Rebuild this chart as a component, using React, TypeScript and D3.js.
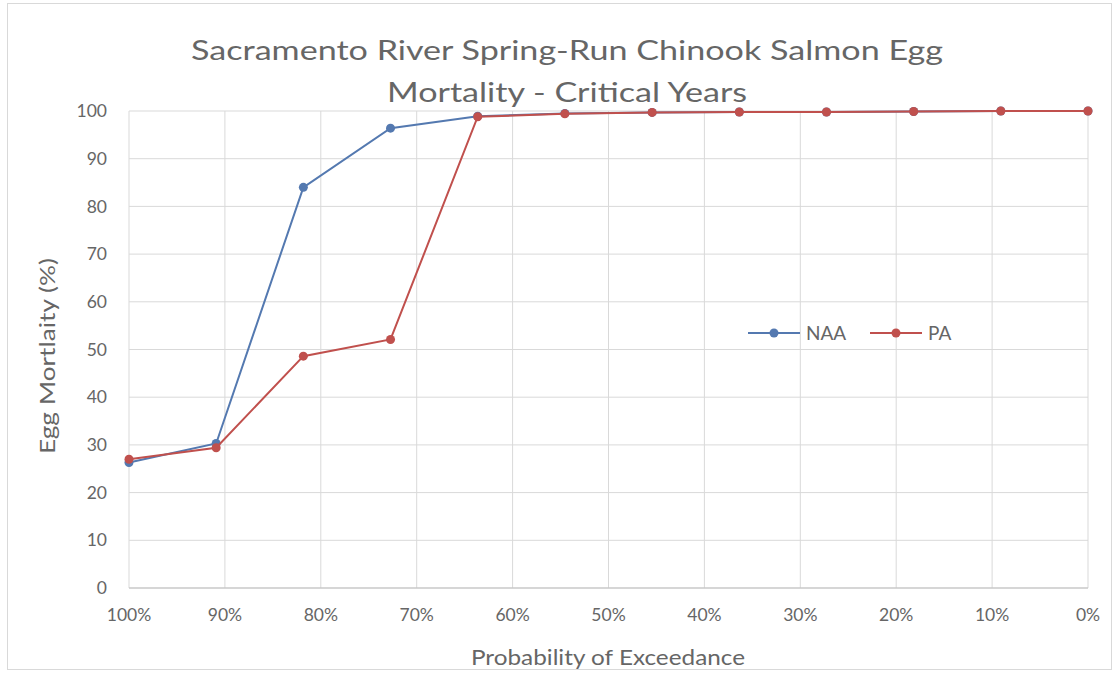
import * as React from 'react';
import * as d3 from 'd3';

// probability of exceedance (%) for each of the 12 ranked years
const exceedance: number[] = [100, 90.91, 81.82, 72.73, 63.64, 54.55, 45.45, 36.36, 27.27, 18.18, 9.09, 0];
const naaValues: number[] = [26.3, 30.3, 84.0, 96.4, 98.9, 99.5, 99.7, 99.8, 99.8, 99.9, 100, 100];
const paValues: number[] = [27.0, 29.4, 48.6, 52.1, 98.8, 99.4, 99.7, 99.8, 99.8, 99.9, 100, 100];
const xTicks: number[] = [100, 90, 80, 70, 60, 50, 40, 30, 20, 10, 0];
const yTicks: number[] = [0, 10, 20, 30, 40, 50, 60, 70, 80, 90, 100];
const seriesNames: string[] = ['NAA', 'PA'];
const seriesColors: string[] = ['#5479b0', '#c0504d'];

const W = 1120;
const H = 673;
const margin = { top: 111, right: 32, bottom: 85, left: 129 };
const font = 'Lato, "Open Sans", sans-serif';
const textColor = '#666666';

export default function App() {
	const innerW = W - margin.left - margin.right;
	const innerH = H - margin.top - margin.bottom;

	const x = d3.scaleLinear().domain([100, 0]).range([0, innerW]);
	const y = d3.scaleLinear().domain([0, 100]).range([innerH, 0]);

	const line = d3
		.line<number>()
		.x((_d, i) => x(exceedance[i]))
		.y((d) => y(d));

	const series = [naaValues, paValues];
	const legendX = [748, 870];

	return (
		<div style={{ position: 'absolute', left: 0, top: 0 }}>
			<svg width={W} height={H} style={{ display: 'block', background: '#fff' }}>
				<rect x={7.5} y={3.5} width={1104} height={666} fill="#fff" stroke="#d9d9d9" />

				{/* title */}
				<g fill={textColor} fontFamily={font} fontSize={27} textAnchor="middle">
					<text x={567} y={60} textLength={752} lengthAdjust="spacingAndGlyphs">
						Sacramento River Spring-Run Chinook Salmon Egg
					</text>
					<text x={567} y={102} textLength={360} lengthAdjust="spacingAndGlyphs">
						Mortality - Critical Years
					</text>
				</g>

				<g transform={`translate(${margin.left},${margin.top})`}>
					{/* gridlines */}
					{yTicks.map((t) => (
						<line key={'gy' + t} x1={0} x2={innerW} y1={y(t)} y2={y(t)} stroke="#d9d9d9" strokeWidth={1} />
					))}
					{xTicks.map((t) => (
						<line key={'gx' + t} x1={x(t)} x2={x(t)} y1={0} y2={innerH} stroke="#d9d9d9" strokeWidth={1} />
					))}
					<line x1={0} x2={innerW} y1={innerH} y2={innerH} stroke="#bfbfbf" strokeWidth={1.2} />

					{/* y tick labels */}
					{yTicks.map((t) => (
						<text
							key={'ty' + t}
							x={-22}
							y={y(t)}
							dy="0.35em"
							textAnchor="end"
							fill={textColor}
							fontFamily={font}
							fontSize={17.5}
						>
							{t}
						</text>
					))}

					{/* x tick labels */}
					{xTicks.map((t) => (
						<text
							key={'tx' + t}
							x={x(t)}
							y={innerH + 33}
							textAnchor="middle"
							fill={textColor}
							fontFamily={font}
							fontSize={17.5}
						>
							{t + '%'}
						</text>
					))}

					{/* series */}
					{series.map((vals, si) => (
						<g key={'s' + si}>
							<path d={line(vals) || ''} fill="none" stroke={seriesColors[si]} strokeWidth={2} />
							{vals.map((v, i) => (
								<circle key={i} cx={x(exceedance[i])} cy={y(v)} r={4.5} fill={seriesColors[si]} />
							))}
						</g>
					))}
				</g>

				{/* axis titles */}
				<text
					x={608}
					y={665}
					textAnchor="middle"
					fill={textColor}
					fontFamily={font}
					fontSize={21}
					textLength={274}
					lengthAdjust="spacingAndGlyphs"
				>
					Probability of Exceedance
				</text>
				<text
					transform="translate(55,356) rotate(-90)"
					textAnchor="middle"
					fill={textColor}
					fontFamily={font}
					fontSize={21}
					textLength={196}
					lengthAdjust="spacingAndGlyphs"
				>
					Egg Mortlaity (%)
				</text>

				{/* legend */}
				{seriesNames.map((name, i) => {
					const lx = legendX[i];
					const ly = 333;
					return (
						<g key={name}>
							<line x1={lx} x2={lx + 52} y1={ly} y2={ly} stroke={seriesColors[i]} strokeWidth={2} />
							<circle cx={lx + 26} cy={ly} r={4.5} fill={seriesColors[i]} />
							<text x={lx + 58} y={ly} dy="0.35em" fill={textColor} fontFamily={font} fontSize={19}>
								{name}
							</text>
						</g>
					);
				})}
			</svg>
		</div>
	);
}
